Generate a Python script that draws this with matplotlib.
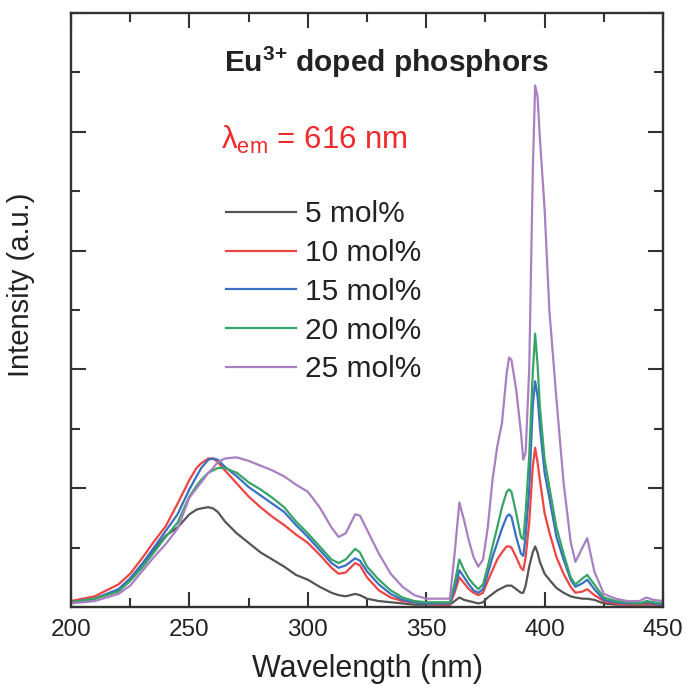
import matplotlib
matplotlib.use("Agg")
import matplotlib.pyplot as plt
from matplotlib.ticker import MultipleLocator, NullFormatter

plt.rcParams['font.family'] = ['Liberation Sans', 'DejaVu Sans']
plt.rcParams['mathtext.default'] = 'regular'

wavelength = [200, 210, 220, 225, 230, 235, 240, 245, 250, 253, 255, 258, 260, 262, 265,
              270, 275, 280, 285, 290, 295, 300, 305, 310, 313, 316, 320, 322, 325, 330,
              335, 340, 345, 350, 355, 360, 362, 364, 366, 368, 370, 372, 374, 376, 378,
              380, 382, 384, 385, 386, 388, 390, 391, 392, 393.5, 395, 396, 397, 398, 400,
              402, 405, 408, 411, 413, 416, 418, 421, 425, 430, 435, 440, 443, 446, 450]

mol5 = [.04, .07, .14, .24, .36, .48, .60, .67, .78, .82, .83, .84, .83, .80, .72,
        .62, .54, .46, .40, .34, .27, .23, .17, .12, .10, .09, .11, .10, .07, .05,
        .04, .03, .02, .02, .02, .02, .05, .08, .06, .05, .04, .03, .04, .08, .11,
        .14, .16, .18, .18, .18, .15, .12, .12, .18, .34, .46, .51, .46, .38, .28,
        .23, .16, .12, .09, .08, .07, .07, .06, .03, .02, .02, .02, .02, .02, .02]

mol10 = [.05, .09, .19, .28, .41, .55, .68, .87, 1.07, 1.17, 1.21, 1.25, 1.25, 1.22, 1.15,
         1.04, .93, .84, .76, .69, .61, .54, .44, .33, .28, .29, .37, .35, .25, .14,
         .08, .05, .04, .03, .02, .02, .12, .25, .20, .15, .12, .10, .12, .22, .31,
         .40, .46, .51, .51, .50, .42, .33, .31, .42, .71, 1.18, 1.34, 1.22, 1.07, .79,
         .63, .42, .28, .17, .12, .13, .15, .10, .05, .03, .02, .02, .03, .02, .02]

mol15 = [.04, .07, .15, .24, .36, .50, .64, .78, .99, 1.10, 1.17, 1.24, 1.25, 1.24, 1.18,
         1.10, 1.01, .94, .87, .80, .69, .59, .48, .37, .33, .35, .41, .39, .30, .19,
         .11, .06, .04, .03, .03, .03, .15, .31, .25, .19, .14, .12, .15, .28, .42,
         .54, .66, .76, .78, .76, .59, .45, .43, .60, .99, 1.69, 1.90, 1.78, 1.52, 1.13,
         .92, .59, .40, .23, .17, .20, .23, .15, .06, .04, .03, .03, .04, .03, .02]

mol20 = [.04, .07, .13, .22, .33, .46, .59, .71, .93, 1.02, 1.07, 1.13, 1.15, 1.17, 1.17,
         1.13, 1.05, .99, .92, .84, .72, .62, .51, .40, .37, .40, .49, .46, .34, .23,
         .14, .08, .05, .04, .04, .04, .20, .40, .31, .24, .19, .15, .19, .34, .51,
         .67, .84, .97, .99, .97, .79, .59, .57, .80, 1.27, 1.97, 2.30, 2.05, 1.69, 1.24,
         1.01, .67, .45, .25, .19, .24, .27, .19, .08, .05, .04, .03, .05, .04, .03]

mol25 = [.03, .05, .11, .18, .30, .42, .53, .66, .92, 1.00, 1.05, 1.13, 1.17, 1.22, 1.25,
         1.26, 1.23, 1.19, 1.15, 1.10, 1.03, .97, .84, .67, .59, .62, .78, .77, .65, .45,
         .28, .17, .10, .07, .07, .07, .45, .88, .73, .56, .42, .34, .40, .67, 1.07,
         1.35, 1.55, 1.97, 2.10, 2.08, 1.83, 1.47, 1.24, 1.30, 2.00, 3.65, 4.39, 4.30, 3.95, 3.35,
         2.50, 1.75, 1.05, .55, .38, .50, .58, .30, .11, .07, .05, .05, .08, .06, .05]

series = [mol5, mol10, mol15, mol20, mol25]
labels = ['5 mol%', '10 mol%', '15 mol%', '20 mol%', '25 mol%']
colors = ['#555555', '#ee4443', '#3b6fc2', '#35a466', '#a880c2']

fig = plt.figure(figsize=(6.89, 6.95), dpi=100)
ax = fig.add_axes([71/689, 88/695, 592/689, 594/695])

for y, lab, c in zip(series, labels, colors):
    ax.plot(wavelength, y, color=c, lw=1.6, label=lab)

ax.set_xlim(200, 450)
ax.set_ylim(0, 5)
ax.xaxis.set_major_locator(MultipleLocator(50))
ax.xaxis.set_minor_locator(MultipleLocator(25))
ax.yaxis.set_major_locator(MultipleLocator(1))
ax.yaxis.set_minor_locator(MultipleLocator(0.5))
ax.yaxis.set_major_formatter(NullFormatter())
ax.tick_params(which='both', direction='in', top=True, right=True, color='#333333', width=1.5)
ax.tick_params(which='major', length=11, labelsize=17.5, pad=9, labelcolor='#222222')
ax.tick_params(which='minor', length=6.5)
for s in ax.spines.values():
    s.set_linewidth(1.7)
    s.set_color('#333333')

ax.set_xlabel('Wavelength (nm)', fontsize=22, color='#222222', labelpad=9)
ax.set_ylabel('Intensity (a.u.)', fontsize=21, color='#222222')
ax.yaxis.set_label_coords(-0.061, 0.542)

ax.text(0.532, 0.916, 'Eu$^{3{+}}$ doped phosphors', transform=ax.transAxes,
        ha='center', va='center', fontsize=21.5, fontweight='bold', color='#222222')
ax.text(0.254, 0.786, 'λ$_{em}$ = 616 nm', transform=ax.transAxes,
        ha='left', va='center', fontsize=22.5, color='#ee2a2a')

leg = ax.legend(loc='upper left', bbox_to_anchor=(0.216, 0.730), frameon=False,
                fontsize=21.5, handlelength=2.34, handletextpad=0.3, labelspacing=0.36,
                labelcolor='#222222')

fig.savefig('out.png', dpi=100)
